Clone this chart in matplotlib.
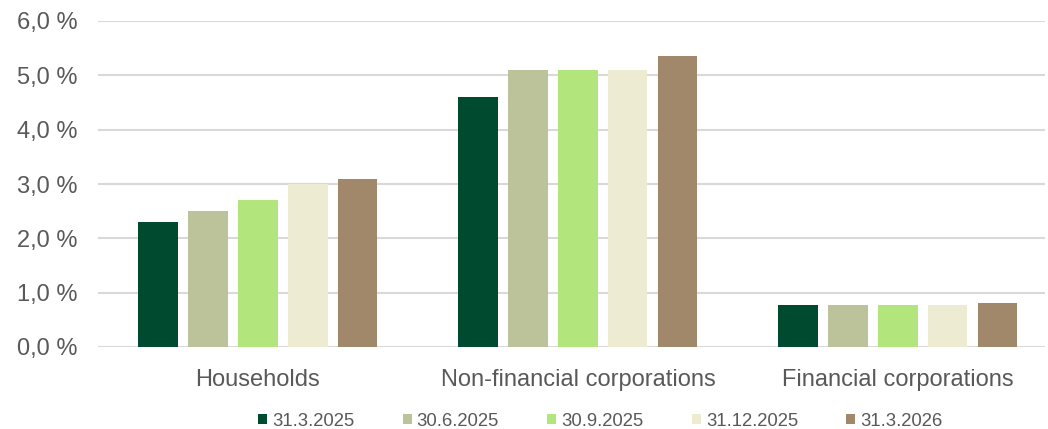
import matplotlib.pyplot as plt
import numpy as np

sectors = ['Households', 'Non-financial corporations', 'Financial corporations']
dates = ['31.3.2025', '30.6.2025', '30.9.2025', '31.12.2025', '31.3.2026']
values = [
    [2.30, 4.61, 0.78],
    [2.51, 5.09, 0.78],
    [2.70, 5.09, 0.78],
    [3.00, 5.09, 0.78],
    [3.10, 5.35, 0.81],
]
colors = ['#004b30', '#bcc39a', '#b2e57b', '#edecd3', '#a2886a']

plt.rcParams['font.family'] = ['Liberation Sans', 'DejaVu Sans']
grey = '#595959'

fig = plt.figure(figsize=(10.48, 4.29), dpi=100)
ax = fig.add_axes([98 / 1048, 82 / 429, 947 / 1048, 326 / 429])

x = np.arange(len(sectors))
step = 0.156
width = 0.123
for i, (d, vals) in enumerate(zip(dates, values)):
    ax.bar(x + (i - 2) * step, vals, width, color=colors[i], label=d, zorder=3)

ax.set_xlim(-0.5, 2.46)
ax.set_ylim(0, 6)
ticks = np.arange(0, 6.5, 1)
ax.set_yticks(ticks)
ax.set_yticklabels([f'{v:.1f} %'.replace('.', ',') for v in ticks])
ax.set_xticks(x)
ax.set_xticklabels(sectors)
ax.grid(axis='y', color='#d9d9d9', linewidth=1.5, zorder=0)
for s in ax.spines.values():
    s.set_visible(False)
ax.tick_params(length=0, labelsize=17, colors=grey)
ax.tick_params(axis='y', pad=15)
ax.tick_params(axis='x', pad=16)

leg = fig.legend(loc='center left', bbox_to_anchor=(258 / 1048, 1 - 421 / 429), ncol=5,
                 frameon=False, fontsize=13.3, handlelength=0.5, handleheight=0.5,
                 handletextpad=0.27, columnspacing=2.6, borderpad=0, borderaxespad=0)
for t in leg.get_texts():
    t.set_color(grey)

fig.savefig('out.png', dpi=100)
